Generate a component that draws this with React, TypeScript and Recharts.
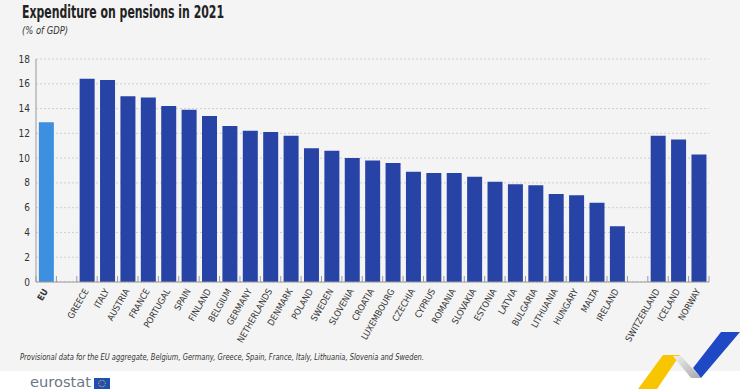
import React from "react";
import { BarChart, Bar, XAxis, YAxis, CartesianGrid, Cell } from "recharts";

// categories ("" and " " are the empty gap slots)
const CATEGORIES = [
  "EU", "",
  "GREECE", "ITALY", "AUSTRIA", "FRANCE", "PORTUGAL", "SPAIN", "FINLAND", "BELGIUM",
  "GERMANY", "NETHERLANDS", "DENMARK", "POLAND", "SWEDEN", "SLOVENIA", "CROATIA",
  "LUXEMBOURG", "CZECHIA", "CYPRUS", "ROMANIA", "SLOVAKIA", "ESTONIA", "LATVIA",
  "BULGARIA", "LITHUANIA", "HUNGARY", "MALTA", "IRELAND", " ",
  "SWITZERLAND", "ICELAND", "NORWAY",
];

// % of GDP, 2021
const VALUES: (number | null)[] = [
  12.9, null,
  16.4, 16.3, 15.0, 14.9, 14.2, 13.9, 13.4, 12.6,
  12.2, 12.1, 11.8, 10.8, 10.6, 10.0, 9.8,
  9.6, 8.9, 8.8, 8.8, 8.5, 8.1, 7.9,
  7.8, 7.1, 7.0, 6.4, 4.5, null,
  11.8, 11.5, 10.3,
];

const Y_TICKS = [0, 2, 4, 6, 8, 10, 12, 14, 16, 18];

const data = CATEGORIES.map((c, i) => ({ name: c, value: VALUES[i] }));

const FONT = "'Liberation Sans Narrow', 'DejaVu Sans Condensed', sans-serif";
const EU_BLUE = "#3d8fe0";
const BAR_BLUE = "#2843a6";
const AXIS_GREY = "#9a9a9a";

// rotated label + boundary tick line drawn per category
function CategoryTick(props: any) {
  const { x, y, payload, index } = props;
  const half = payload && payload.offset ? payload.offset : 10.2;
  const label = String(payload.value).trim();
  const axisY = y - 2;
  return (
    <g>
      <line x1={x + half} x2={x + half} y1={axisY - 6} y2={axisY} stroke={AXIS_GREY} />
      {index === 0 && (
        <line x1={x - half} x2={x - half} y1={axisY - 6} y2={axisY} stroke={AXIS_GREY} />
      )}
      {label && (
        <text
          x={x + 2}
          y={y + 7}
          transform={`rotate(-60 ${x + 2} ${y + 7})`}
          textAnchor="end"
          fontSize={9}
          fontFamily={FONT}
          fontWeight={label === "EU" ? 700 : 400}
          fill="#333"
        >
          {label}
        </text>
      )}
    </g>
  );
}

export default function App() {
  const stars = Array.from({ length: 12 }, (_, i) => i);
  return (
    <div
      style={{
        position: "absolute",
        left: 0,
        top: 0,
        width: 740,
        height: 389,
        background: "#ffffff",
        overflow: "hidden",
      }}
    >
      <div style={{ position: "absolute", left: 0, top: 0, width: 740, height: 371, background: "#f4f4f4" }} />

      <div style={{ position: "absolute", left: 0, top: 0 }}>
        <BarChart
          width={740}
          height={371}
          data={data}
          margin={{ top: 59, right: 31, bottom: 29, left: 0 }}
          barCategoryGap="14%"
        >
          <CartesianGrid vertical={false} stroke="#cfcfcf" strokeDasharray="2 2" />
          <XAxis
            dataKey="name"
            interval={0}
            height={60}
            tickLine={false}
            tickSize={0}
            stroke={AXIS_GREY}
            tick={<CategoryTick />}
          />
          <YAxis
            width={36}
            domain={[0, 18]}
            ticks={Y_TICKS}
            interval={0}
            tickLine={false}
            tickSize={0}
            tickMargin={6}
            stroke={AXIS_GREY}
            tick={{ fontSize: 10, fill: "#333", fontFamily: FONT }}
          />
          <Bar dataKey="value" isAnimationActive={false}>
            {data.map((d, i) => (
              <Cell key={i} fill={d.name === "EU" ? EU_BLUE : BAR_BLUE} />
            ))}
          </Bar>
        </BarChart>
      </div>

      <svg
        width={740}
        height={389}
        style={{ position: "absolute", left: 0, top: 0, pointerEvents: "none" }}
      >
        <text x={22} y={18} fontFamily={FONT} fontWeight={700} fontSize={18} fill="#222"
          textLength={202} lengthAdjust="spacingAndGlyphs">
          Expenditure on pensions in 2021
        </text>
        <text x={22} y={34} fontFamily={FONT} fontStyle="italic" fontSize={10} fill="#333"
          textLength={46} lengthAdjust="spacingAndGlyphs">
          (% of GDP)
        </text>
        <text x={20} y={360} fontFamily={FONT} fontStyle="italic" fontSize={9.5} fill="#333"
          textLength={404} lengthAdjust="spacingAndGlyphs">
          Provisional data for the EU aggregate, Belgium, Germany, Greece, Spain, France, Italy, Lithuania, Slovenia and Sweden.
        </text>

        {/* eurostat logo */}
        <text x={30} y={387} fontFamily="'DejaVu Sans', sans-serif" fontSize={14} fill="#6b7785"
          textLength={61} lengthAdjust="spacingAndGlyphs">
          eurostat
        </text>
        <rect x={94} y={378} width={16} height={11} fill="#1f4fb4" />
        {stars.map((i) => (
          <circle
            key={i}
            cx={102 + 3.3 * Math.cos((i * Math.PI) / 6)}
            cy={383.5 + 3.3 * Math.sin((i * Math.PI) / 6)}
            r={0.5}
            fill="#ffd200"
          />
        ))}

        {/* decorative stripes */}
        <defs>
          <linearGradient id="greyStripe" x1="0" y1="0" x2="1" y2="1">
            <stop offset="0%" stopColor="#f0f0f0" />
            <stop offset="100%" stopColor="#a8a8a8" />
          </linearGradient>
        </defs>
        <polygon points="663,355 680,355 657,389 638,389" fill="#f7c600" />
        <polygon points="673,356 681,356 701,378 691,378" fill="url(#greyStripe)" />
        <polygon points="721,332 740,332 701,378 693,368" fill="#1f48c4" />
      </svg>
    </div>
  );
}
